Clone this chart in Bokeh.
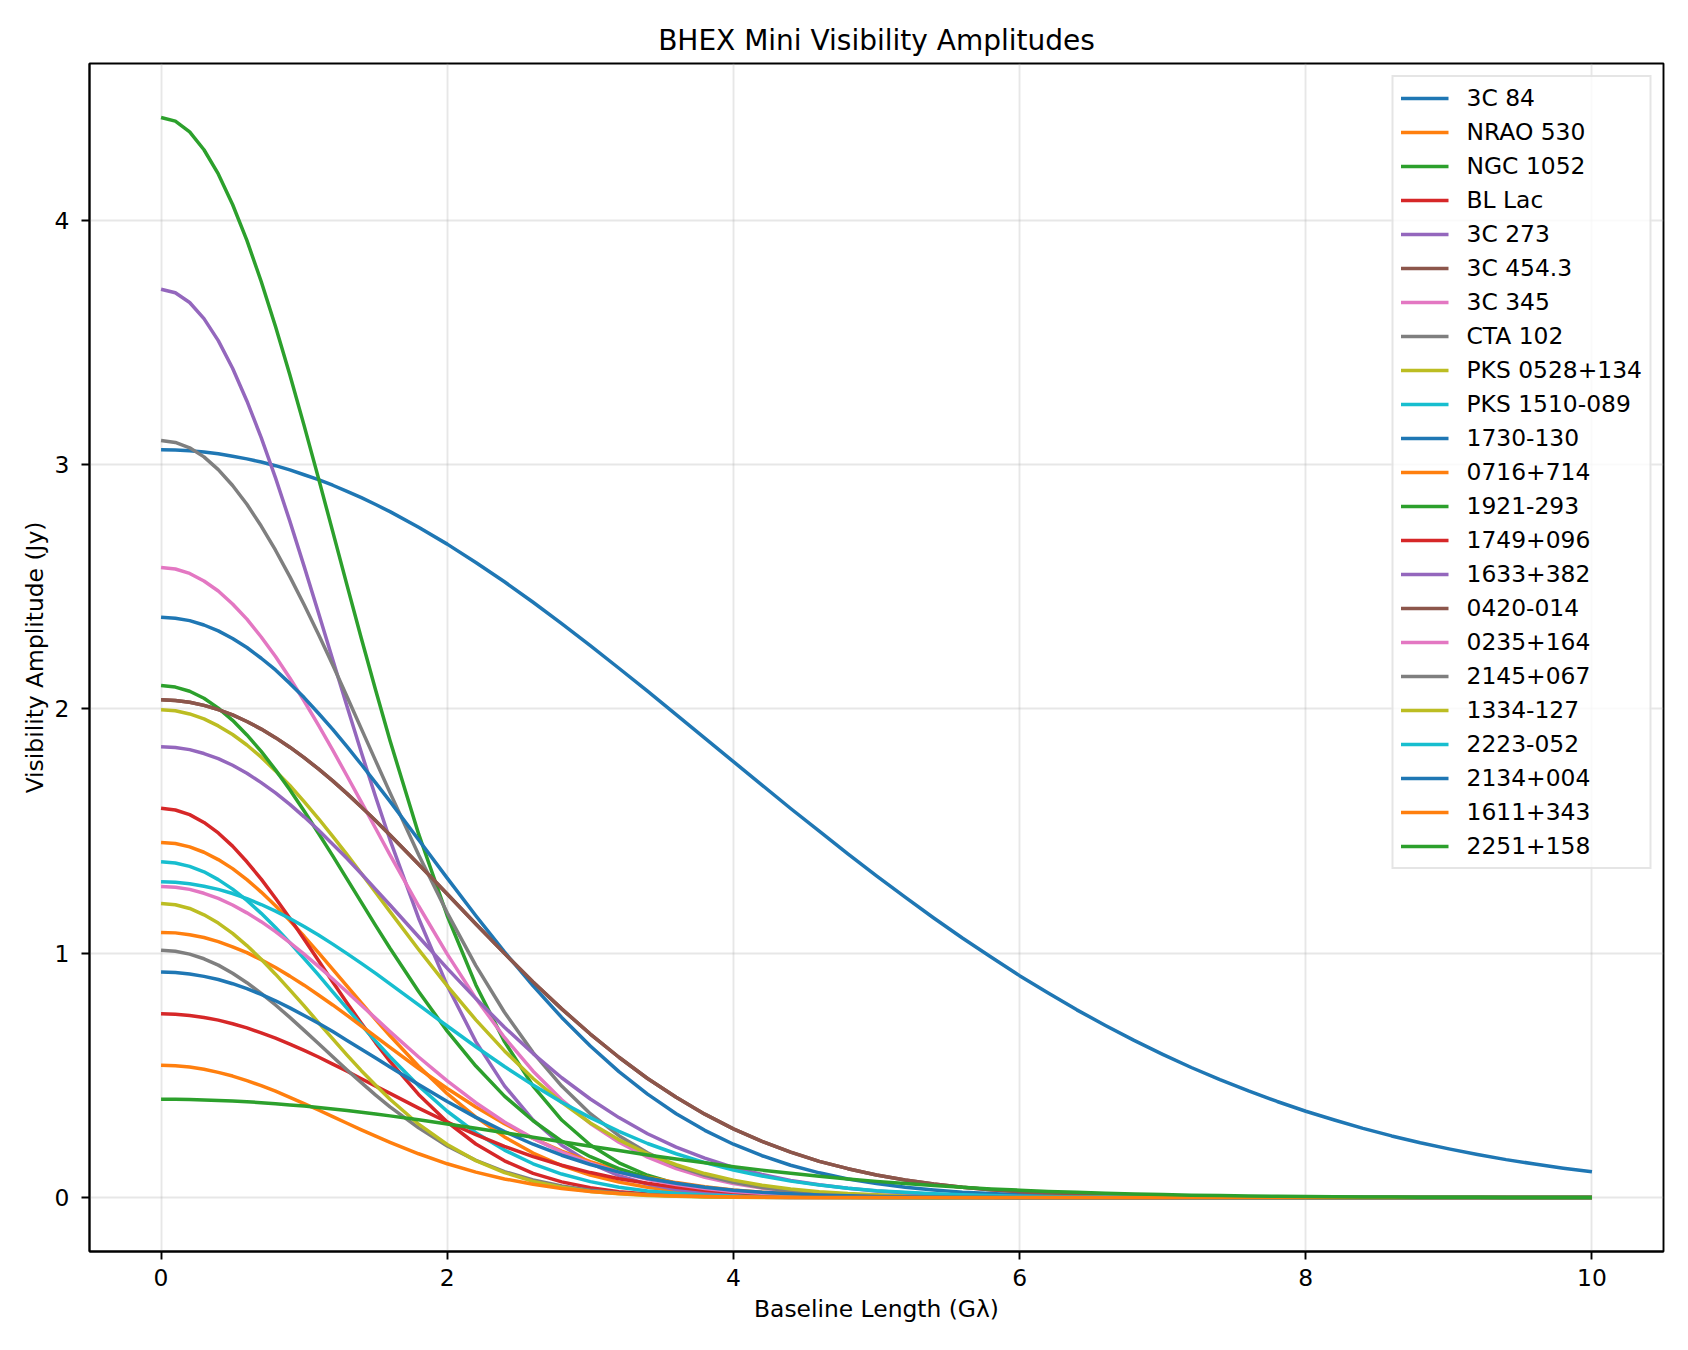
from bokeh.plotting import figure
from bokeh.models import Range1d, FixedTicker, Legend, LegendItem
from bokeh.embed import file_html
from bokeh.resources import INLINE

# Baseline length samples (G lambda)
baseline = [0.0, 0.1, 0.2, 0.3, 0.4, 0.5, 0.6, 0.7, 0.8, 0.9, 1.0, 1.1, 1.2, 1.3, 1.4, 1.5, 1.6,
            1.8, 2.0, 2.2, 2.4, 2.6, 2.8, 3.0, 3.2, 3.4, 3.6, 3.8,
            4.0, 4.2, 4.4, 4.6, 4.8, 5.0, 5.2, 5.4, 5.6, 5.8,
            6.0, 6.2, 6.4, 6.6, 6.8, 7.0, 7.2, 7.4, 7.6, 7.8,
            8.0, 8.2, 8.4, 8.6, 8.8, 9.0, 9.2, 9.4, 9.6, 9.8, 10.0]

# Visibility amplitudes (Jy); past the listed values each curve sits at zero
v_3c84 = [3.060, 3.059, 3.056, 3.051, 3.044, 3.034, 3.023, 3.010, 2.995, 2.978, 2.958, 2.938, 2.915,
          2.890, 2.864, 2.836, 2.807, 2.743, 2.674, 2.599, 2.520, 2.436, 2.349, 2.259, 2.166, 2.072,
          1.976, 1.880, 1.784, 1.688, 1.592, 1.499, 1.406, 1.316, 1.229, 1.144, 1.062, 0.984, 0.908,
          0.837, 0.768, 0.704, 0.643, 0.586, 0.532, 0.482, 0.436, 0.393, 0.353, 0.317, 0.283, 0.252,
          0.224, 0.199, 0.176, 0.155, 0.137, 0.120, 0.105]
v_nrao530 = [1.453, 1.449, 1.435, 1.413, 1.383, 1.346, 1.301, 1.250, 1.194, 1.133, 1.069, 1.002, 0.934,
             0.865, 0.796, 0.728, 0.662, 0.537, 0.425, 0.329, 0.248, 0.182, 0.131, 0.092, 0.063, 0.042,
             0.027, 0.017, 0.011, 0.006, 0.004, 0.002, 0.001]
v_ngc1052 = [4.420, 4.405, 4.361, 4.288, 4.189, 4.064, 3.917, 3.749, 3.565, 3.367, 3.159, 2.944, 2.725,
             2.505, 2.288, 2.076, 1.870, 1.488, 1.153, 0.870, 0.638, 0.456, 0.317, 0.215, 0.142, 0.091,
             0.057, 0.035, 0.020, 0.012, 0.007, 0.004, 0.002, 0.001]
v_bllac = [1.593, 1.586, 1.567, 1.535, 1.492, 1.438, 1.374, 1.303, 1.225, 1.143, 1.057, 0.970, 0.882,
           0.796, 0.713, 0.633, 0.557, 0.422, 0.309, 0.219, 0.150, 0.099, 0.064, 0.040, 0.024, 0.014,
           0.008, 0.004, 0.002, 0.001]
v_3c273 = [3.717, 3.703, 3.663, 3.597, 3.507, 3.394, 3.260, 3.110, 2.945, 2.768, 2.583, 2.393, 2.201,
           2.009, 1.821, 1.639, 1.464, 1.143, 0.867, 0.638, 0.457, 0.317, 0.214, 0.140, 0.089, 0.055,
           0.033, 0.019, 0.011, 0.006, 0.003, 0.002, 0.001]
v_3c454 = [2.037, 2.034, 2.027, 2.014, 1.997, 1.975, 1.948, 1.917, 1.882, 1.843, 1.800, 1.754, 1.705,
           1.653, 1.598, 1.542, 1.484, 1.364, 1.242, 1.119, 0.999, 0.882, 0.772, 0.669, 0.574, 0.487,
           0.410, 0.341, 0.281, 0.230, 0.186, 0.148, 0.118, 0.092, 0.072, 0.055, 0.042, 0.032, 0.024,
           0.017, 0.013, 0.009, 0.007, 0.005, 0.003, 0.002, 0.002, 0.001, 0.001]
v_3c345 = [2.578, 2.572, 2.554, 2.523, 2.482, 2.429, 2.367, 2.294, 2.214, 2.126, 2.032, 1.933, 1.831,
           1.725, 1.618, 1.510, 1.402, 1.193, 0.996, 0.815, 0.655, 0.517, 0.400, 0.303, 0.226, 0.165,
           0.118, 0.083, 0.057, 0.039, 0.026, 0.017, 0.011, 0.007, 0.004, 0.003, 0.001, 0.001]
v_cta102 = [3.098, 3.090, 3.068, 3.031, 2.979, 2.914, 2.837, 2.748, 2.649, 2.541, 2.426, 2.305, 2.179,
            2.049, 1.918, 1.787, 1.657, 1.403, 1.165, 0.949, 0.758, 0.593, 0.456, 0.343, 0.253, 0.183,
            0.130, 0.091, 0.062, 0.041, 0.027, 0.018, 0.011, 0.007, 0.004, 0.002, 0.001, 0.001]
v_pks0528 = [1.996, 1.992, 1.979, 1.959, 1.930, 1.895, 1.852, 1.802, 1.746, 1.686, 1.620, 1.551, 1.478,
             1.403, 1.326, 1.248, 1.170, 1.015, 0.866, 0.727, 0.600, 0.487, 0.389, 0.305, 0.236, 0.179,
             0.134, 0.098, 0.071, 0.050, 0.035, 0.024, 0.016, 0.011, 0.007, 0.005, 0.003, 0.002, 0.001,
             0.001]
v_pks1510 = [1.374, 1.369, 1.355, 1.333, 1.301, 1.262, 1.216, 1.163, 1.105, 1.043, 0.978, 0.911, 0.842,
             0.774, 0.706, 0.640, 0.576, 0.457, 0.353, 0.265, 0.194, 0.138, 0.096, 0.065, 0.042, 0.027,
             0.017, 0.010, 0.006, 0.003, 0.002, 0.001]
v_1730 = [2.375, 2.371, 2.361, 2.343, 2.319, 2.288, 2.251, 2.207, 2.159, 2.104, 2.046, 1.982, 1.916,
          1.845, 1.772, 1.697, 1.621, 1.464, 1.307, 1.153, 1.005, 0.866, 0.737, 0.620, 0.515, 0.423,
          0.343, 0.275, 0.218, 0.171, 0.132, 0.101, 0.076, 0.057, 0.042, 0.031, 0.022, 0.016, 0.011,
          0.008, 0.005, 0.004, 0.002, 0.002, 0.001, 0.001]
v_0716 = [1.085, 1.083, 1.075, 1.064, 1.047, 1.026, 1.002, 0.973, 0.941, 0.906, 0.869, 0.829, 0.788,
          0.745, 0.702, 0.658, 0.614, 0.528, 0.446, 0.370, 0.302, 0.242, 0.190, 0.147, 0.111, 0.083,
          0.061, 0.044, 0.031, 0.022, 0.015, 0.010, 0.006, 0.004, 0.003, 0.002, 0.001, 0.001]
v_1921 = [2.095, 2.089, 2.072, 2.043, 2.003, 1.953, 1.893, 1.826, 1.750, 1.669, 1.582, 1.491, 1.398,
          1.303, 1.208, 1.113, 1.020, 0.843, 0.681, 0.538, 0.415, 0.314, 0.231, 0.167, 0.118, 0.081,
          0.055, 0.036, 0.023, 0.015, 0.009, 0.005, 0.003, 0.002, 0.001]
v_1749 = [0.752, 0.750, 0.745, 0.737, 0.726, 0.711, 0.694, 0.674, 0.652, 0.628, 0.602, 0.575, 0.546,
          0.517, 0.486, 0.456, 0.426, 0.366, 0.309, 0.257, 0.209, 0.167, 0.132, 0.102, 0.077, 0.058,
          0.042, 0.030, 0.021, 0.015, 0.010, 0.007, 0.004, 0.003, 0.002, 0.001, 0.001]
v_1633 = [1.845, 1.842, 1.833, 1.817, 1.796, 1.769, 1.736, 1.698, 1.656, 1.609, 1.558, 1.504, 1.446,
          1.387, 1.325, 1.261, 1.197, 1.067, 0.938, 0.814, 0.697, 0.589, 0.490, 0.403, 0.327, 0.261,
          0.206, 0.161, 0.123, 0.094, 0.070, 0.052, 0.038, 0.027, 0.019, 0.013, 0.009, 0.006, 0.004,
          0.003, 0.002, 0.001, 0.001]
v_0420 = [2.037, 2.034, 2.027, 2.014, 1.997, 1.975, 1.948, 1.917, 1.882, 1.843, 1.800, 1.754, 1.705,
          1.653, 1.598, 1.542, 1.484, 1.364, 1.242, 1.119, 0.999, 0.882, 0.772, 0.669, 0.574, 0.487,
          0.410, 0.341, 0.281, 0.230, 0.186, 0.148, 0.118, 0.092, 0.072, 0.055, 0.042, 0.032, 0.024,
          0.017, 0.013, 0.009, 0.007, 0.005, 0.003, 0.002, 0.002, 0.001, 0.001]
v_0235 = [1.273, 1.270, 1.261, 1.245, 1.224, 1.197, 1.165, 1.129, 1.088, 1.043, 0.996, 0.946, 0.894,
          0.841, 0.787, 0.733, 0.679, 0.575, 0.477, 0.388, 0.309, 0.242, 0.186, 0.140, 0.103, 0.074,
          0.053, 0.037, 0.025, 0.017, 0.011, 0.007, 0.004, 0.003, 0.002, 0.001]
v_2145 = [1.012, 1.008, 0.996, 0.977, 0.951, 0.918, 0.879, 0.835, 0.788, 0.737, 0.684, 0.630, 0.576,
          0.522, 0.470, 0.419, 0.371, 0.285, 0.211, 0.152, 0.106, 0.072, 0.047, 0.030, 0.018, 0.011,
          0.006, 0.004, 0.002, 0.001]
v_1334 = [1.203, 1.198, 1.183, 1.157, 1.123, 1.081, 1.031, 0.975, 0.914, 0.850, 0.784, 0.716, 0.649,
          0.583, 0.519, 0.459, 0.402, 0.300, 0.217, 0.151, 0.102, 0.066, 0.042, 0.025, 0.015, 0.008,
          0.005, 0.002, 0.001]
v_2223 = [1.292, 1.290, 1.284, 1.274, 1.261, 1.244, 1.223, 1.199, 1.172, 1.142, 1.109, 1.074, 1.037,
          0.998, 0.958, 0.917, 0.874, 0.788, 0.702, 0.617, 0.536, 0.460, 0.390, 0.327, 0.271, 0.221,
          0.179, 0.143, 0.112, 0.088, 0.067, 0.051, 0.038, 0.028, 0.021, 0.015, 0.011, 0.008, 0.005,
          0.004, 0.002, 0.002, 0.001, 0.001]
v_2134 = [0.923, 0.921, 0.915, 0.905, 0.892, 0.875, 0.855, 0.831, 0.805, 0.776, 0.745, 0.713, 0.679,
          0.643, 0.607, 0.571, 0.534, 0.462, 0.393, 0.328, 0.270, 0.218, 0.173, 0.135, 0.104, 0.078,
          0.058, 0.042, 0.030, 0.021, 0.015, 0.010, 0.007, 0.004, 0.003, 0.002, 0.001, 0.001]
v_1611 = [0.541, 0.539, 0.534, 0.525, 0.512, 0.497, 0.478, 0.458, 0.435, 0.410, 0.384, 0.358, 0.331,
          0.304, 0.277, 0.251, 0.226, 0.179, 0.138, 0.104, 0.076, 0.054, 0.037, 0.025, 0.016, 0.010,
          0.006, 0.004, 0.002, 0.001, 0.001]
v_2251 = [0.402, 0.402, 0.401, 0.399, 0.397, 0.395, 0.392, 0.388, 0.384, 0.379, 0.374, 0.368, 0.362,
          0.356, 0.349, 0.342, 0.334, 0.318, 0.301, 0.283, 0.265, 0.247, 0.228, 0.210, 0.192, 0.174,
          0.158, 0.142, 0.126, 0.112, 0.099, 0.087, 0.076, 0.066, 0.057, 0.049, 0.042, 0.035, 0.030,
          0.025, 0.021, 0.017, 0.014, 0.012, 0.009, 0.008, 0.006, 0.005, 0.004, 0.003, 0.002, 0.002,
          0.001, 0.001, 0.001]

source_names = ["3C 84", "NRAO 530", "NGC 1052", "BL Lac", "3C 273", "3C 454.3", "3C 345", "CTA 102",
                "PKS 0528+134", "PKS 1510-089", "1730-130", "0716+714", "1921-293", "1749+096",
                "1633+382", "0420-014", "0235+164", "2145+067", "1334-127", "2223-052", "2134+004",
                "1611+343", "2251+158"]
source_values = [v_3c84, v_nrao530, v_ngc1052, v_bllac, v_3c273, v_3c454, v_3c345, v_cta102,
                 v_pks0528, v_pks1510, v_1730, v_0716, v_1921, v_1749, v_1633, v_0420, v_0235,
                 v_2145, v_1334, v_2223, v_2134, v_1611, v_2251]

palette = ["#1f77b4", "#ff7f0e", "#2ca02c", "#d62728", "#9467bd",
           "#8c564b", "#e377c2", "#7f7f7f", "#bcbd22", "#17becf"]

FONT = "DejaVu Sans"
FS = "23.4px"

p = figure(width=1688, height=1350, output_backend="svg", toolbar_location=None,
           x_range=Range1d(-0.5, 10.5), y_range=Range1d(-0.221, 4.641),
           min_border_left=89, min_border_right=25, min_border_top=63, min_border_bottom=99,
           title="BHEX Mini Visibility Amplitudes")
p.background_fill_color = "white"
p.border_fill_color = "white"
p.outline_line_color = "black"
p.outline_line_width = 1.9

p.title.align = "center"
p.title.text_font = FONT
p.title.text_font_size = "28px"
p.title.text_font_style = "normal"
p.title.text_color = "black"
p.title.standoff = 14

p.xaxis.ticker = FixedTicker(ticks=[0, 2, 4, 6, 8, 10])
p.yaxis.ticker = FixedTicker(ticks=[0, 1, 2, 3, 4])
p.xaxis.axis_label = "Baseline Length (G\u03bb)"
p.yaxis.axis_label = "Visibility Amplitude (Jy)"
for ax in (p.xaxis, p.yaxis):
    ax.axis_label_text_font = FONT
    ax.axis_label_text_font_size = FS
    ax.axis_label_text_font_style = "normal"
    ax.axis_label_text_color = "black"
    ax.major_label_text_font = FONT
    ax.major_label_text_font_size = FS
    ax.major_label_text_color = "black"
    ax.major_tick_out = 8
    ax.major_tick_in = 0
    ax.major_tick_line_width = 1.9
    ax.major_tick_line_color = "black"
    ax.minor_tick_line_color = None
    ax.axis_line_color = "black"
    ax.axis_line_width = 1.9
p.xaxis.major_label_standoff = 9
p.xaxis.axis_label_standoff = 6
p.yaxis.major_label_standoff = 12
p.yaxis.axis_label_standoff = 3

p.grid.grid_line_color = "#b0b0b0"
p.grid.grid_line_alpha = 0.3
p.grid.grid_line_width = 1.9

items = []
for i, (name, vals) in enumerate(zip(source_names, source_values)):
    ys = vals + [0.0] * (len(baseline) - len(vals))
    r = p.line(baseline, ys, line_color=palette[i % 10], line_width=3.5, line_join="round")
    items.append(LegendItem(label=name, renderers=[r]))

legend = Legend(items=items, location="top_right")
legend.margin = 12
legend.padding = 7
legend.spacing = 6
legend.glyph_width = 48
legend.glyph_height = 24
legend.label_height = 24
legend.label_standoff = 18
legend.label_text_font = FONT
legend.label_text_font_size = FS
legend.label_text_color = "black"
legend.background_fill_color = "white"
legend.background_fill_alpha = 0.8
legend.border_line_color = "#cccccc"
legend.border_line_width = 2
p.add_layout(legend)

open("out.html", "w").write(file_html(p, INLINE))
